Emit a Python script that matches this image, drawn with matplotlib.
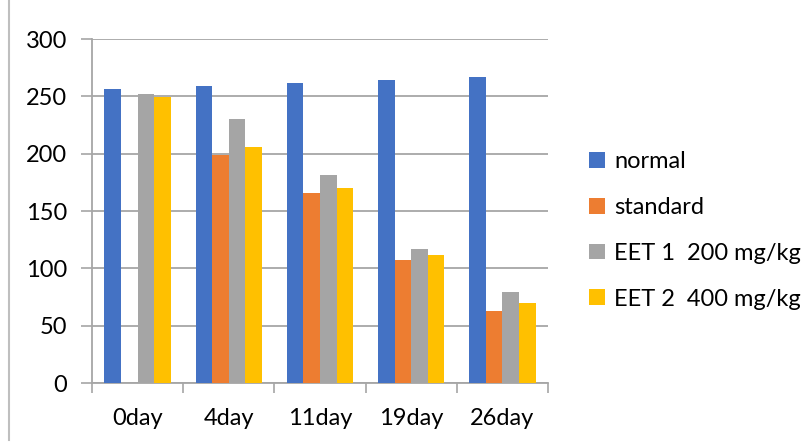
import numpy as np
import matplotlib.pyplot as plt
from matplotlib.lines import Line2D
from matplotlib.patches import Patch

plt.rcParams['font.family'] = ['Lato', 'DejaVu Sans']

days = ['0day', '4day', '11day', '19day', '26day']
normal = [256, 259, 262, 264, 267]
standard = [0, 199, 166, 107, 63]
eet1 = [252, 230, 181, 117, 79]
eet2 = [249, 206, 170, 112, 70]

series = [normal, standard, eet1, eet2]
names = ['normal', 'standard', 'EET 1  200 mg/kg', 'EET 2  400 mg/kg']
colors = ['#4472C4', '#ED7D31', '#A5A5A5', '#FFC000']
fs = 17

fig = plt.figure(figsize=(8.11, 4.44), dpi=100)
ax = fig.add_axes([92 / 811, 1 - 383 / 444, 456 / 811, 344 / 444])

x = np.arange(len(days))
w = 0.182
for i, (vals, c) in enumerate(zip(series, colors)):
    ax.bar(x + (i - 1.5) * w, vals, w, color=c, zorder=3)

ax.set_xlim(-0.5, len(days) - 0.5)
ax.set_ylim(0, 300)
ax.set_yticks(range(0, 301, 50))
ax.yaxis.grid(True, color='#A6A6A6', linewidth=1.3, zorder=0)

# category boundary ticks below the axis
ax.set_xticks(np.arange(-0.5, len(days), 1.0))
ax.set_xticklabels([])
ax.set_xticks(x, minor=True)
ax.set_xticklabels(days, minor=True)
ax.tick_params(axis='x', which='major', length=7, color='#A6A6A6', width=1.2)
ax.tick_params(axis='x', which='minor', length=0, pad=18, labelsize=fs)
ax.tick_params(axis='y', length=8, color='#A6A6A6', width=1.2, pad=10, labelsize=fs)

for s in ['top', 'right']:
    ax.spines[s].set_visible(False)
for s in ['left', 'bottom']:
    ax.spines[s].set_color('#A6A6A6')
    ax.spines[s].set_linewidth(1.3)

handles = [Patch(facecolor=c) for c in colors]
fig.legend(handles, names, loc='upper left', bbox_to_anchor=(568 / 811, 1 - 130 / 444),
           frameon=False, fontsize=fs, handlelength=0.65, handleheight=0.65,
           handletextpad=0.4, labelspacing=1.05)

# chart frame edge on the left
fig.add_artist(Line2D([9 / 811, 9 / 811], [1.0, 4 / 444], color='#BFBFBF', linewidth=1.5))

fig.savefig('out.png', dpi=100)
